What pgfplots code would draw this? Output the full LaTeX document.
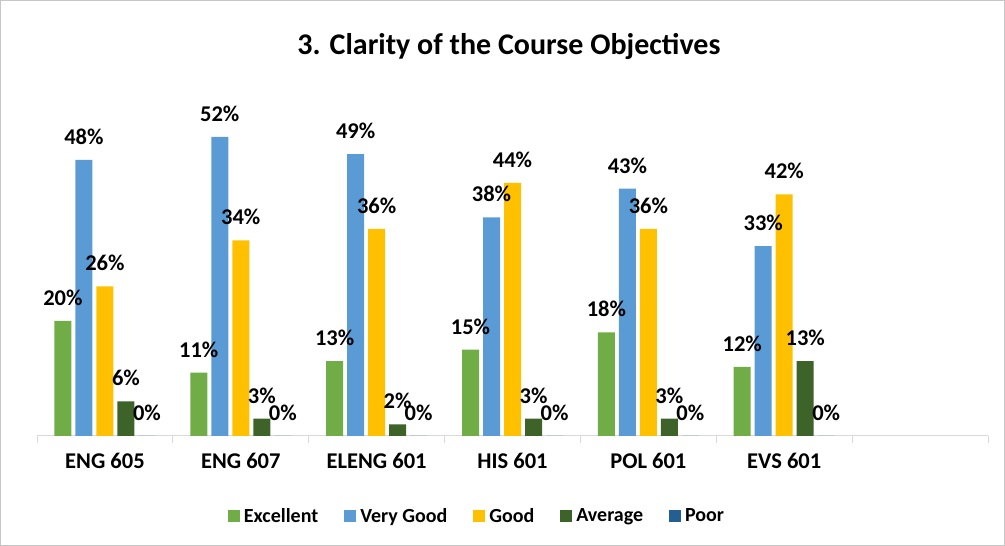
\documentclass[border=0pt]{standalone}
\usepackage{fontspec}
\setmainfont{Carlito}
\usepackage{pgfplots}
\pgfplotsset{compat=1.18}
\definecolor{cexc}{RGB}{112,173,71}
\definecolor{cvg}{RGB}{91,155,213}
\definecolor{cgood}{RGB}{255,192,0}
\definecolor{cavg}{RGB}{62,99,40}
\definecolor{cpoor}{RGB}{37,94,145}
\definecolor{cline}{RGB}{217,217,217}

\pgfplotsset{sq legend/.style={legend image code/.code={\path[fill=#1] (0pt,-6pt) rectangle (12pt,6pt);}}}

\begin{document}
\begin{tikzpicture}[x=1pt,y=1pt]
\useasboundingbox (0,0) rectangle (1005,546);
\draw[gray!45, line width=1pt] (0.5,0.5) rectangle (1004.5,545.5);
\node[font=\bfseries\fontsize{30}{35}\selectfont, anchor=base] at (509,491) {3. Clarity of the Course Objectives};

\begin{axis}[
    at={(37pt,110pt)}, anchor=south west,
    scale only axis, width=951pt, height=345pt,
    xmin=-0.5, xmax=6.5, ymin=0, ymax=60,
    ybar=4pt, bar width=17pt,
    axis x line*=bottom, axis y line=none,
    axis line style={cline, line width=1pt},
    xtick={0,1,2,3,4,5},
    xticklabels={ENG 605,ENG 607,ELENG 601,HIS 601,POL 601,EVS 601},
    major tick length=0pt,
    extra x ticks={-0.5,0.5,1.5,2.5,3.5,4.5,5.5,6.5},
    extra x tick labels={},
    extra x tick style={major tick length=7pt, tick align=outside, tick style={cline, line width=1pt}},
    xticklabel style={font=\bfseries\fontsize{22.5}{27}\selectfont, yshift=-14pt},
    nodes near coords={\pgfmathprintnumber{\pgfplotspointmeta}\%},
    nodes near coords style={font=\bfseries\fontsize{22.5}{27}\selectfont, yshift=12pt, black},
    /pgf/number format/assume math mode=true,
    legend columns=5,
    legend style={at={(0.4627,-0.232)}, anchor=center, draw=none, fill=none,
        font=\bfseries\fontsize{20}{24}\selectfont,
        /tikz/every odd column/.append style={column sep=2pt},
        /tikz/every even column/.append style={column sep=24pt}},
]
\addplot[fill=cexc, draw=none, sq legend=cexc] coordinates {(0,20) (1,11) (2,13) (3,15) (4,18) (5,12)};
\addplot[fill=cvg, draw=none, sq legend=cvg] coordinates {(0,48) (1,52) (2,49) (3,38) (4,43) (5,33)};
\addplot[fill=cgood, draw=none, sq legend=cgood] coordinates {(0,26) (1,34) (2,36) (3,44) (4,36) (5,42)};
\addplot[fill=cavg, draw=none, sq legend=cavg] coordinates {(0,6) (1,3) (2,2) (3,3) (4,3) (5,13)};
\addplot[fill=cpoor, draw=none, sq legend=cpoor] coordinates {(0,0) (1,0) (2,0) (3,0) (4,0) (5,0)};
\legend{Excellent, Very Good, Good, Average, Poor}
\end{axis}
\end{tikzpicture}
\end{document}
